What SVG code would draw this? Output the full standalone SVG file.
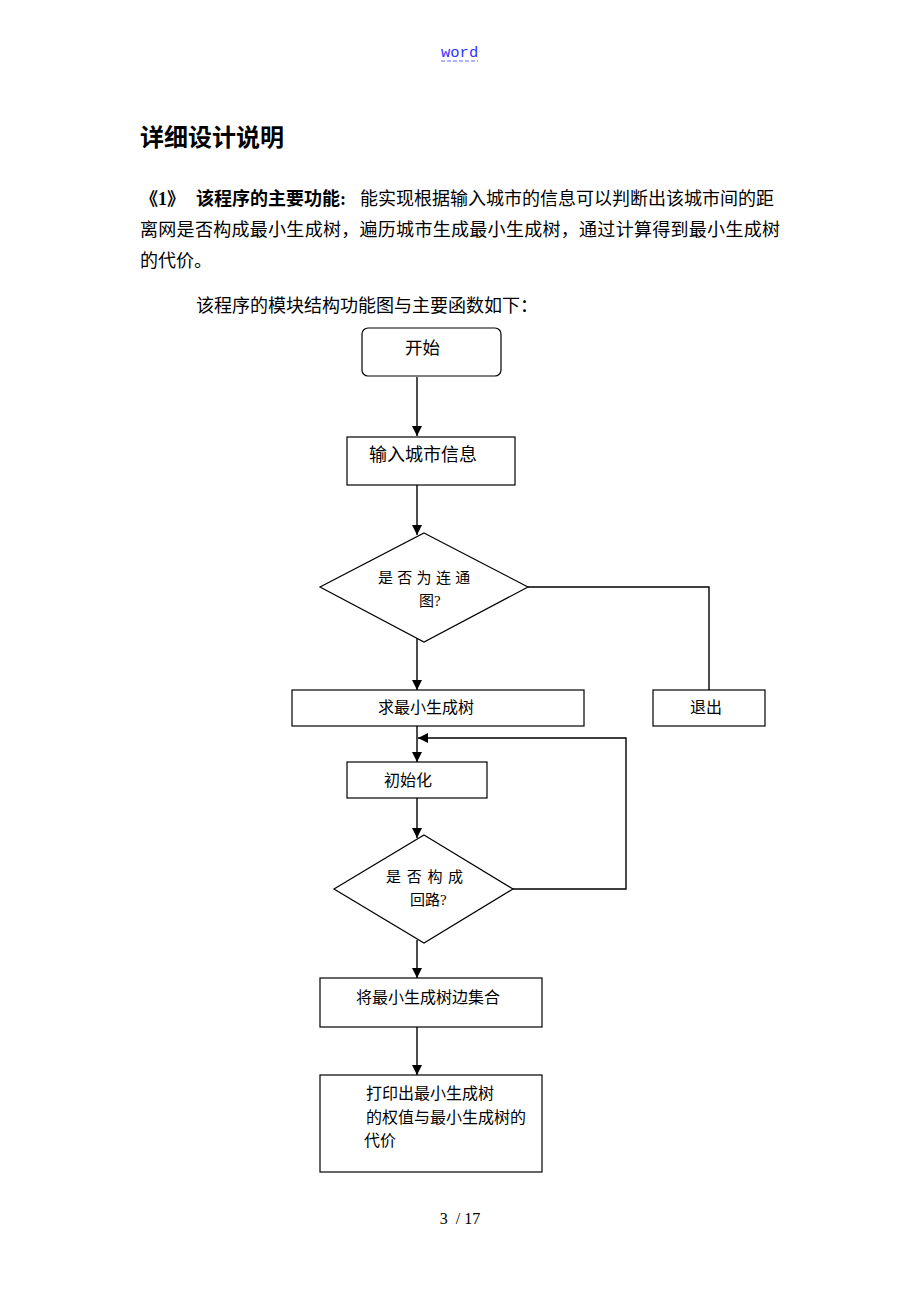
<svg xmlns="http://www.w3.org/2000/svg" width="920" height="1302" viewBox="0 0 920 1302">
<style>
.t{font-family:"Liberation Serif","Noto Sans CJK SC",serif;fill:#000}
.n{font-size:16px}
.box{fill:#fff;stroke:#000;stroke-width:1.2}
.ln{fill:none;stroke:#000;stroke-width:1.4}
</style>
<defs>
<marker id="ah" viewBox="0 0 10 10" refX="10" refY="5" markerWidth="10" markerHeight="10" markerUnits="userSpaceOnUse" orient="auto">
<path d="M0,0 L10,5 L0,10 z" fill="#000"/>
</marker>
</defs>
<rect width="920" height="1302" fill="#fff"/>
<g id="header">
<text x="441" y="57" font-family="Liberation Mono, monospace" font-size="15.5" fill="#3333ff">word</text>
<line x1="441" y1="61" x2="478" y2="61" stroke="#6666ff" stroke-width="1" stroke-dasharray="4,2"/>
</g>
<g id="text">
<text class="t" x="140" y="146" font-size="24" font-weight="bold">详细设计说明</text>
<text class="t" x="140" y="205" font-size="18"><tspan font-weight="bold">《1》</tspan><tspan x="196" font-weight="bold">该程序的主要功能:</tspan><tspan x="360">能实现根据输入城市的信息可以判断出该城市间的距</tspan></text>
<text class="t" x="140" y="236" font-size="18" textLength="640">离网是否构成最小生成树，遍历城市生成最小生成树，通过计算得到最小生成树</text>
<text class="t" x="140" y="267" font-size="18">的代价。</text>
<text class="t" x="196" y="312" font-size="18">该程序的模块结构功能图与主要函数如下：</text>
<text class="t" x="460" y="1224" font-size="16" text-anchor="middle">3&#160; / 17</text>
</g>
<g id="connectors">
<line class="ln" x1="417" y1="377" x2="417" y2="436" marker-end="url(#ah)"/>
<line class="ln" x1="417" y1="485" x2="417" y2="535" marker-end="url(#ah)"/>
<polyline class="ln" points="528,587 709,587 709,690"/>
<line class="ln" x1="417" y1="638" x2="417" y2="690" marker-end="url(#ah)"/>
<line class="ln" x1="417" y1="726" x2="417" y2="762" marker-end="url(#ah)"/>
<polyline class="ln" points="513,889 626,889 626,738 418,738" marker-end="url(#ah)"/>
<line class="ln" x1="417" y1="798" x2="417" y2="838" marker-end="url(#ah)"/>
<line class="ln" x1="417" y1="940" x2="417" y2="978" marker-end="url(#ah)"/>
<line class="ln" x1="417" y1="1027" x2="417" y2="1075" marker-end="url(#ah)"/>
</g>
<g id="start">
<rect class="box" x="362" y="328" width="139" height="48" rx="6"/>
<text class="t" x="405" y="354" font-size="17.5">开始</text>
</g>
<g id="input">
<rect class="box" x="347" y="437" width="168" height="48"/>
<text class="t" x="369" y="461" font-size="18">输入城市信息</text>
</g>
<g id="connected">
<polygon class="box" points="424,533 528,587 424,642 320,587"/>
<text class="t" x="378" y="583" font-size="15" letter-spacing="4.3">是否为连通</text>
<text class="t" x="419" y="606" font-size="15">图?</text>
</g>
<g id="mst">
<rect class="box" x="292" y="690" width="292" height="36"/>
<text class="t n" x="378" y="713">求最小生成树</text>
</g>
<g id="exit">
<rect class="box" x="653" y="690" width="112" height="36"/>
<text class="t n" x="690" y="713">退出</text>
</g>
<g id="init">
<rect class="box" x="347" y="762" width="140" height="36"/>
<text class="t n" x="384" y="786">初始化</text>
</g>
<g id="cycle">
<polygon class="box" points="424,835 513,889 424,943 334,889"/>
<text class="t" x="386" y="882" font-size="15" letter-spacing="5.7">是否构成</text>
<text class="t" x="410" y="905" font-size="15">回路?</text>
</g>
<g id="collect">
<rect class="box" x="320" y="978" width="222" height="49"/>
<text class="t n" x="356" y="1003">将最小生成树边集合</text>
</g>
<g id="print">
<rect class="box" x="320" y="1075" width="222" height="97"/>
<text class="t n" x="366" y="1099">打印出最小生成树</text>
<text class="t n" x="366" y="1123">的权值与最小生成树的</text>
<text class="t n" x="364" y="1146">代价</text>
</g>
</svg>
